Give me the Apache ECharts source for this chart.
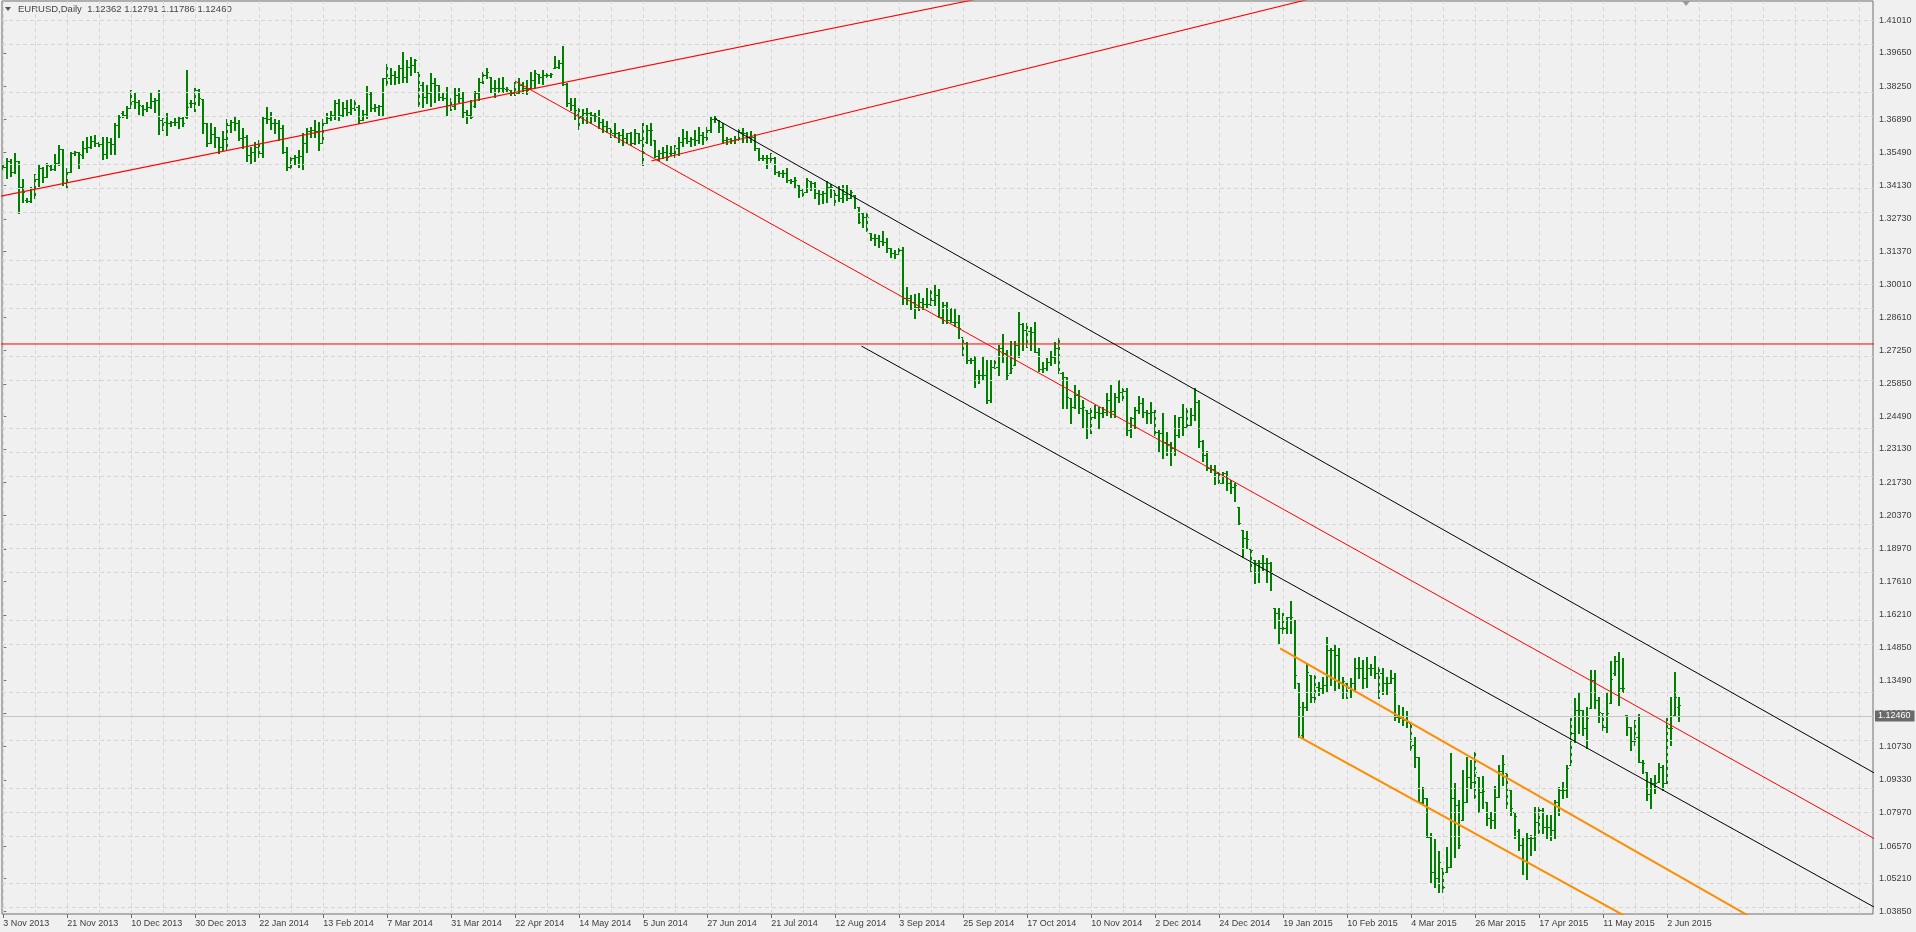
<!DOCTYPE html>
<html>
<head>
<meta charset="utf-8">
<script src="https://cdn.jsdelivr.net/npm/echarts@6.0.0/dist/echarts.min.js"></script>
<style>
html,body{margin:0;padding:0;background:#f0f0f0;}
#chart{width:1916px;height:932px;}
</style>
</head>
<body>
<div id="chart"></div>
<script>
// ---------- DATA ----------
const titleText = 'EURUSD,Daily  1.12362 1.12791 1.11786 1.12460';
const tickLabels = ['3 Nov 2013','21 Nov 2013','10 Dec 2013','30 Dec 2013','22 Jan 2014','13 Feb 2014','7 Mar 2014','31 Mar 2014','22 Apr 2014','14 May 2014','5 Jun 2014','27 Jun 2014','21 Jul 2014','12 Aug 2014','3 Sep 2014','25 Sep 2014','17 Oct 2014','10 Nov 2014','2 Dec 2014','24 Dec 2014','19 Jan 2015','10 Feb 2015','4 Mar 2015','26 Mar 2015','17 Apr 2015','11 May 2015','2 Jun 2015'];
const barsPerLabel = 16;
const barsPerGridLine = 8;
const yTickValues = [1.41010,1.39650,1.38250,1.36890,1.35490,1.34130,1.32730,1.31370,1.30010,1.28610,1.27250,1.25850,1.24490,1.23130,1.21730,1.20370,1.18970,1.17610,1.16210,1.14850,1.13490,1.12090,1.10730,1.09330,1.07970,1.06570,1.05210,1.03850];
const bidPrice = 1.12460;
const shiftMarkerBar = 420.7;

const opens = [
1.3492,1.3490,1.3514,1.3470,1.3514,1.3407,1.3350,1.3348,1.3400,1.3439,
1.3484,1.3449,1.3495,1.3481,1.3505,1.3563,1.3421,1.3470,1.3549,1.3550,
1.3539,1.3570,1.3574,1.3598,1.3588,1.3584,1.3542,1.3592,1.3585,1.3664,
1.3713,1.3706,1.3737,1.3764,1.3762,1.3745,1.3731,1.3741,1.3766,1.3769,
1.3685,1.3678,1.3671,1.3676,1.3678,1.3695,1.3699,1.3755,1.3755,1.3810,
1.3771,1.3671,1.3588,1.3627,1.3613,1.3574,1.3606,1.3664,1.3678,1.3671,
1.3609,1.3616,1.3539,1.3553,1.3574,1.3546,1.3692,1.3688,1.3674,1.3671,
1.3650,1.3553,1.3491,1.3525,1.3530,1.3535,1.3588,1.3641,1.3644,1.3641,
1.3591,1.3671,1.3692,1.3706,1.3755,1.3706,1.3734,1.3720,1.3737,1.3741,
1.3685,1.3710,1.3792,1.3737,1.3741,1.3744,1.3859,1.3862,1.3873,1.3866,
1.3901,1.3866,1.3908,1.3915,1.3887,1.3831,1.3782,1.3796,1.3838,1.3831,
1.3782,1.3778,1.3748,1.3744,1.3789,1.3776,1.3717,1.3706,1.3745,1.3796,
1.3845,1.3873,1.3866,1.3817,1.3817,1.3817,1.3815,1.3810,1.3796,1.3796,
1.3831,1.3817,1.3817,1.3852,1.3876,1.3866,1.3873,1.3873,1.3901,1.3908,
1.3921,1.3837,1.3755,1.3748,1.3710,1.3702,1.3713,1.3713,1.3706,1.3702,
1.3678,1.3660,1.3650,1.3632,1.3632,1.3623,1.3609,1.3630,1.3590,1.3630,
1.3602,1.3595,1.3643,1.3602,1.3535,1.3546,1.3553,1.3546,1.3546,1.3567,
1.3595,1.3609,1.3599,1.3605,1.3602,1.3623,1.3616,1.3643,1.3688,1.3685,
1.3657,1.3602,1.3605,1.3602,1.3605,1.3637,1.3630,1.3616,1.3616,1.3570,
1.3525,1.3528,1.3528,1.3528,1.3470,1.3463,1.3463,1.3435,1.3431,1.3414,
1.3393,1.3384,1.3431,1.3421,1.3379,1.3375,1.3379,1.3407,1.3393,1.3372,
1.3361,1.3375,1.3361,1.3372,1.3324,1.3296,1.3282,1.3213,1.3195,1.3192,
1.3181,1.3178,1.3150,1.3129,1.3125,1.3143,1.2942,1.2942,1.2928,1.2907,
1.2928,1.2917,1.2917,1.2935,1.2955,1.2865,1.2914,1.2851,1.2844,1.2844,
1.2782,1.2754,1.2684,1.2684,1.2622,1.2622,1.2622,1.2517,1.2657,1.2654,
1.2733,1.2712,1.2629,1.2663,1.2747,1.2834,1.2809,1.2807,1.2802,1.2719,
1.2645,1.2650,1.2677,1.2695,1.2733,1.2629,1.2612,1.2524,1.2490,1.2538,
1.2483,1.2476,1.2462,1.2448,1.2469,1.2462,1.2469,1.2517,1.2470,1.2531,
1.2552,1.2556,1.2393,1.2441,1.2476,1.2504,1.2469,1.2462,1.2469,1.2386,
1.2379,1.2344,1.2334,1.2316,1.2372,1.2445,1.2406,1.2413,1.2455,1.2511,
1.2348,1.2288,1.2232,1.2229,1.2212,1.2173,1.2212,1.2170,1.2153,1.2070,
1.1975,1.1941,1.1895,1.1851,1.1837,1.1837,1.1837,1.1837,1.1649,1.1628,
1.1565,1.1565,1.1614,1.1600,1.1336,1.1120,1.1238,1.1370,1.1280,1.1322,
1.1318,1.1329,1.1475,1.1475,1.1454,1.1343,1.1336,1.1318,1.1336,1.1398,
1.1398,1.1357,1.1398,1.1398,1.1377,1.1377,1.1336,1.1336,1.1359,1.1197,
1.1193,1.1183,1.1169,1.1079,1.1030,1.0842,1.0856,1.0696,1.0550,1.0523,
1.0564,1.0550,1.0571,1.0859,1.0828,1.0766,1.0842,1.0947,1.0926,1.0947,
1.0884,1.0842,1.0773,1.0766,1.0863,1.0970,1.0960,1.0891,1.0801,1.0720,
1.0660,1.0600,1.0689,1.0689,1.0759,1.0807,1.0738,1.0738,1.0724,1.0842,
1.0891,1.0891,1.0995,1.1127,1.1225,1.1225,1.1148,1.1232,1.1350,1.1266,
1.1211,1.1155,1.1252,1.1380,1.1430,1.1315,1.1204,1.1155,1.1095,1.1113,
1.1009,1.0967,1.0873,1.0919,1.0926,1.0988,1.0919,1.1151,1.1204,1.1236
];
const highs = [
1.3500,1.3525,1.3522,1.3549,1.3514,1.3439,1.3359,1.3407,1.3459,1.3498,
1.3491,1.3505,1.3498,1.3542,1.3581,1.3564,1.3484,1.3550,1.3557,1.3553,
1.3598,1.3616,1.3619,1.3623,1.3592,1.3614,1.3616,1.3609,1.3671,1.3706,
1.3723,1.3745,1.3810,1.3796,1.3769,1.3748,1.3762,1.3799,1.3778,1.3810,
1.3695,1.3713,1.3681,1.3695,1.3699,1.3699,1.3894,1.3769,1.3817,1.3813,
1.3771,1.3674,1.3671,1.3655,1.3616,1.3641,1.3689,1.3685,1.3696,1.3685,
1.3651,1.3623,1.3574,1.3595,1.3602,1.3699,1.3741,1.3720,1.3688,1.3685,
1.3664,1.3574,1.3532,1.3539,1.3560,1.3630,1.3651,1.3655,1.3685,1.3678,
1.3688,1.3713,1.3723,1.3769,1.3773,1.3762,1.3769,1.3771,1.3769,1.3748,
1.3727,1.3827,1.3803,1.3751,1.3748,1.3862,1.3917,1.3901,1.3890,1.3915,
1.3970,1.3935,1.3949,1.3940,1.3887,1.3845,1.3831,1.3880,1.3859,1.3831,
1.3796,1.3824,1.3776,1.3817,1.3820,1.3803,1.3727,1.3769,1.3806,1.3862,
1.3887,1.3904,1.3866,1.3852,1.3859,1.3866,1.3824,1.3810,1.3845,1.3859,
1.3845,1.3852,1.3887,1.3894,1.3876,1.3894,1.3880,1.3880,1.3954,1.3935,
1.3993,1.3840,1.3776,1.3776,1.3734,1.3730,1.3734,1.3720,1.3713,1.3727,
1.3688,1.3682,1.3650,1.3671,1.3637,1.3646,1.3632,1.3637,1.3646,1.3632,
1.3671,1.3664,1.3671,1.3602,1.3560,1.3574,1.3581,1.3577,1.3581,1.3616,
1.3646,1.3641,1.3616,1.3643,1.3655,1.3637,1.3657,1.3696,1.3702,1.3685,
1.3671,1.3616,1.3609,1.3619,1.3646,1.3650,1.3637,1.3639,1.3626,1.3570,
1.3539,1.3539,1.3546,1.3532,1.3473,1.3477,1.3484,1.3439,1.3449,1.3414,
1.3403,1.3445,1.3431,1.3428,1.3393,1.3389,1.3431,1.3417,1.3393,1.3411,
1.3414,1.3414,1.3393,1.3372,1.3324,1.3296,1.3296,1.3213,1.3208,1.3206,
1.3222,1.3192,1.3150,1.3143,1.3150,1.3157,1.2990,1.2955,1.2958,1.2962,
1.2942,1.2983,1.2976,1.2997,1.2979,1.2928,1.2928,1.2900,1.2896,1.2872,
1.2782,1.2761,1.2691,1.2701,1.2643,1.2701,1.2684,1.2684,1.2684,1.2747,
1.2793,1.2726,1.2765,1.2765,1.2886,1.2840,1.2840,1.2823,1.2844,1.2733,
1.2677,1.2691,1.2723,1.2761,1.2775,1.2636,1.2615,1.2524,1.2580,1.2559,
1.2517,1.2476,1.2483,1.2497,1.2490,1.2490,1.2545,1.2580,1.2545,1.2601,
1.2566,1.2566,1.2448,1.2490,1.2534,1.2524,1.2476,1.2511,1.2476,1.2392,
1.2462,1.2386,1.2344,1.2455,1.2448,1.2501,1.2483,1.2483,1.2566,1.2517,
1.2351,1.2306,1.2247,1.2247,1.2219,1.2219,1.2223,1.2184,1.2170,1.2070,
1.1975,1.1969,1.1895,1.1851,1.1851,1.1871,1.1857,1.1843,1.1649,1.1649,
1.1628,1.1614,1.1681,1.1600,1.1336,1.1259,1.1419,1.1370,1.1370,1.1343,
1.1364,1.1530,1.1484,1.1498,1.1484,1.1364,1.1336,1.1357,1.1443,1.1447,
1.1433,1.1447,1.1415,1.1451,1.1405,1.1398,1.1364,1.1391,1.1377,1.1245,
1.1238,1.1220,1.1169,1.1113,1.1030,1.0905,1.0856,1.0710,1.0687,1.0637,
1.0564,1.0655,1.1044,1.0919,1.0850,1.0974,1.1030,1.1016,1.1051,1.0947,
1.0950,1.0842,1.0801,1.0909,1.0995,1.1037,1.0960,1.0891,1.0801,1.0730,
1.0690,1.0710,1.0703,1.0821,1.0821,1.0814,1.0787,1.0787,1.0849,1.0905,
1.0926,1.0995,1.1193,1.1276,1.1294,1.1225,1.1238,1.1391,1.1391,1.1280,
1.1211,1.1301,1.1430,1.1450,1.1467,1.1440,1.1204,1.1155,1.1183,1.1207,
1.1016,1.0967,1.0940,1.0954,1.1002,1.0995,1.1190,1.1280,1.1384,1.1279
];
const lows = [
1.3482,1.3442,1.3453,1.3463,1.3296,1.3345,1.3342,1.3345,1.3359,1.3411,
1.3428,1.3448,1.3477,1.3477,1.3498,1.3414,1.3400,1.3470,1.3539,1.3486,
1.3525,1.3553,1.3570,1.3578,1.3578,1.3523,1.3525,1.3545,1.3542,1.3616,
1.3699,1.3692,1.3734,1.3734,1.3709,1.3706,1.3723,1.3734,1.3720,1.3626,
1.3644,1.3623,1.3662,1.3664,1.3653,1.3662,1.3692,1.3741,1.3724,1.3748,
1.3630,1.3577,1.3588,1.3574,1.3549,1.3560,1.3560,1.3637,1.3644,1.3602,
1.3567,1.3516,1.3505,1.3516,1.3532,1.3530,1.3671,1.3646,1.3630,1.3602,
1.3546,1.3477,1.3484,1.3502,1.3491,1.3480,1.3553,1.3616,1.3616,1.3560,
1.3588,1.3671,1.3685,1.3688,1.3685,1.3702,1.3706,1.3710,1.3727,1.3671,
1.3685,1.3692,1.3723,1.3723,1.3706,1.3706,1.3831,1.3834,1.3834,1.3838,
1.3845,1.3845,1.3873,1.3887,1.3744,1.3741,1.3755,1.3744,1.3762,1.3769,
1.3769,1.3706,1.3727,1.3731,1.3762,1.3699,1.3671,1.3692,1.3741,1.3769,
1.3838,1.3859,1.3803,1.3782,1.3803,1.3803,1.3806,1.3789,1.3789,1.3796,
1.3796,1.3792,1.3817,1.3817,1.3838,1.3834,1.3866,1.3866,1.3901,1.3901,
1.3832,1.3744,1.3727,1.3688,1.3646,1.3671,1.3674,1.3674,1.3682,1.3650,
1.3637,1.3637,1.3616,1.3613,1.3595,1.3581,1.3588,1.3581,1.3585,1.3588,
1.3498,1.3588,1.3581,1.3532,1.3518,1.3525,1.3518,1.3539,1.3532,1.3539,
1.3577,1.3588,1.3577,1.3581,1.3588,1.3585,1.3602,1.3637,1.3678,1.3637,
1.3588,1.3585,1.3588,1.3588,1.3602,1.3595,1.3592,1.3595,1.3560,1.3519,
1.3519,1.3486,1.3512,1.3459,1.3453,1.3449,1.3425,1.3421,1.3407,1.3366,
1.3370,1.3384,1.3393,1.3358,1.3334,1.3338,1.3345,1.3366,1.3331,1.3348,
1.3345,1.3352,1.3358,1.3317,1.3254,1.3240,1.3222,1.3185,1.3164,1.3157,
1.3164,1.3133,1.3115,1.3111,1.3125,1.2917,1.2917,1.2897,1.2858,1.2893,
1.2897,1.2907,1.2914,1.2914,1.2865,1.2837,1.2837,1.2844,1.2826,1.2775,
1.2701,1.2673,1.2670,1.2570,1.2587,1.2601,1.2504,1.2511,1.2650,1.2622,
1.2677,1.2604,1.2629,1.2663,1.2698,1.2726,1.2740,1.2726,1.2719,1.2640,
1.2636,1.2643,1.2663,1.2673,1.2629,1.2483,1.2483,1.2420,1.2483,1.2462,
1.2400,1.2358,1.2380,1.2441,1.2400,1.2448,1.2455,1.2448,1.2445,1.2510,
1.2517,1.2372,1.2365,1.2400,1.2462,1.2448,1.2420,1.2420,1.2372,1.2302,
1.2274,1.2288,1.2247,1.2288,1.2365,1.2372,1.2406,1.2413,1.2434,1.2320,
1.2264,1.2226,1.2219,1.2168,1.2170,1.2170,1.2142,1.2128,1.2098,1.2000,
1.1864,1.1899,1.1802,1.1753,1.1760,1.1809,1.1760,1.1725,1.1565,1.1503,
1.1545,1.1545,1.1545,1.1315,1.1113,1.1106,1.1225,1.1259,1.1259,1.1287,
1.1294,1.1301,1.1329,1.1308,1.1315,1.1273,1.1276,1.1280,1.1301,1.1357,
1.1318,1.1322,1.1370,1.1357,1.1276,1.1290,1.1290,1.1336,1.1183,1.1176,
1.1162,1.1155,1.1058,1.0988,1.0842,1.0835,1.0696,1.0509,1.0488,1.0464,
1.0467,1.0550,1.0570,1.0613,1.0648,1.0766,1.0840,1.0898,1.0856,1.0801,
1.0815,1.0745,1.0731,1.0731,1.0863,1.0912,1.0814,1.0787,1.0690,1.0640,
1.0540,1.0520,1.0620,1.0640,1.0710,1.0710,1.0689,1.0682,1.0689,1.0787,
1.0856,1.0863,1.0995,1.1092,1.1127,1.1120,1.1065,1.1232,1.1232,1.1176,
1.1141,1.1134,1.1252,1.1371,1.1245,1.1301,1.1120,1.1058,1.1079,1.1009,
1.0960,1.0849,1.0814,1.0877,1.0926,1.0891,1.0919,1.1079,1.1204,1.1179
];
const closes = [
1.3491,1.3514,1.3470,1.3516,1.3407,1.3386,1.3348,1.3400,1.3439,1.3484,
1.3449,1.3498,1.3481,1.3505,1.3563,1.3421,1.3470,1.3546,1.3550,1.3545,
1.3570,1.3574,1.3598,1.3588,1.3584,1.3542,1.3592,1.3585,1.3664,1.3699,
1.3706,1.3737,1.3764,1.3762,1.3748,1.3731,1.3741,1.3766,1.3769,1.3685,
1.3678,1.3671,1.3676,1.3678,1.3695,1.3671,1.3741,1.3755,1.3810,1.3776,
1.3671,1.3588,1.3627,1.3613,1.3574,1.3606,1.3664,1.3678,1.3671,1.3609,
1.3616,1.3539,1.3553,1.3574,1.3546,1.3692,1.3688,1.3674,1.3671,1.3650,
1.3553,1.3491,1.3525,1.3530,1.3535,1.3588,1.3641,1.3644,1.3641,1.3591,
1.3671,1.3692,1.3706,1.3755,1.3706,1.3734,1.3720,1.3737,1.3741,1.3685,
1.3710,1.3803,1.3737,1.3741,1.3744,1.3859,1.3862,1.3873,1.3866,1.3901,
1.3866,1.3908,1.3915,1.3935,1.3831,1.3782,1.3796,1.3838,1.3831,1.3782,
1.3778,1.3748,1.3744,1.3789,1.3776,1.3717,1.3706,1.3699,1.3796,1.3845,
1.3873,1.3887,1.3817,1.3817,1.3817,1.3817,1.3815,1.3796,1.3796,1.3831,
1.3817,1.3810,1.3852,1.3880,1.3866,1.3873,1.3873,1.3876,1.3908,1.3921,
1.3837,1.3755,1.3748,1.3727,1.3702,1.3713,1.3713,1.3706,1.3702,1.3678,
1.3660,1.3650,1.3632,1.3632,1.3623,1.3609,1.3630,1.3590,1.3630,1.3602,
1.3553,1.3643,1.3643,1.3535,1.3546,1.3553,1.3532,1.3546,1.3567,1.3595,
1.3609,1.3599,1.3605,1.3602,1.3623,1.3616,1.3643,1.3688,1.3692,1.3657,
1.3602,1.3605,1.3602,1.3605,1.3637,1.3630,1.3616,1.3616,1.3570,1.3525,
1.3528,1.3528,1.3528,1.3470,1.3463,1.3463,1.3435,1.3431,1.3435,1.3393,
1.3384,1.3435,1.3421,1.3379,1.3375,1.3379,1.3407,1.3407,1.3372,1.3361,
1.3375,1.3361,1.3384,1.3358,1.3261,1.3282,1.3282,1.3195,1.3192,1.3181,
1.3178,1.3150,1.3129,1.3125,1.3143,1.2942,1.2942,1.2928,1.2907,1.2928,
1.2917,1.2917,1.2935,1.2955,1.2865,1.2914,1.2851,1.2844,1.2844,1.2816,
1.2754,1.2684,1.2684,1.2622,1.2622,1.2622,1.2517,1.2657,1.2654,1.2733,
1.2712,1.2622,1.2650,1.2747,1.2834,1.2809,1.2807,1.2802,1.2719,1.2645,
1.2650,1.2677,1.2695,1.2733,1.2629,1.2612,1.2529,1.2490,1.2538,1.2483,
1.2490,1.2462,1.2448,1.2469,1.2462,1.2469,1.2517,1.2470,1.2531,1.2552,
1.2556,1.2393,1.2441,1.2476,1.2504,1.2469,1.2462,1.2469,1.2386,1.2379,
1.2344,1.2334,1.2316,1.2372,1.2445,1.2406,1.2413,1.2455,1.2511,1.2348,
1.2288,1.2232,1.2229,1.2212,1.2173,1.2212,1.2170,1.2153,1.2163,1.2003,
1.1941,1.1937,1.1892,1.1837,1.1837,1.1837,1.1837,1.1795,1.1628,1.1565,
1.1565,1.1614,1.1614,1.1370,1.1238,1.1238,1.1382,1.1280,1.1322,1.1318,
1.1329,1.1475,1.1475,1.1454,1.1343,1.1346,1.1318,1.1336,1.1398,1.1398,
1.1357,1.1398,1.1398,1.1377,1.1377,1.1336,1.1336,1.1359,1.1197,1.1193,
1.1183,1.1176,1.1079,1.1030,1.0842,1.0856,1.0696,1.0550,1.0523,1.0592,
1.0488,1.0571,1.0859,1.0828,1.0662,1.0842,1.0947,1.0926,1.0967,1.0884,
1.0887,1.0773,1.0766,1.0863,1.0970,1.0998,1.0940,1.0814,1.0784,1.0660,
1.0600,1.0689,1.0689,1.0759,1.0807,1.0738,1.0738,1.0724,1.0842,1.0891,
1.0891,1.0981,1.1127,1.1225,1.1225,1.1148,1.1190,1.1350,1.1266,1.1218,
1.1155,1.1211,1.1354,1.1430,1.1315,1.1315,1.1155,1.1095,1.1113,1.1009,
1.1002,1.0873,1.0919,1.0919,1.0988,1.0919,1.1151,1.1151,1.1280,1.1246
];

// Drawn objects: [barIndex, price] anchor points
const redRay1     = [[-1, 1.33665], [260, 1.42452]];
const redRay2     = [[162, 1.35140], [360, 1.43270]];
const redMedian   = [[127.9, 1.38478], [470, 1.06670]];
const blackUpper  = [[177.75, 1.36923], [470, 1.09406]];
const blackLower  = [[214.55, 1.27422], [470, 1.03813]];
const orangeUpper = [[319.2, 1.14818], [470, 1.00453]];
const orangeLower = [[323.9, 1.11132], [470, 0.97727]];
const redLevel    = 1.27510;

// ---------- CHART ----------
const chart = echarts.init(document.getElementById('chart'), null, {renderer: 'canvas'});
const FONT = 'Liberation Sans';
const xMin = -0.325, xMax = 467.425;

const labelBars = tickLabels.map((_, k) => k * barsPerLabel);
const gridBars = [];
for (let b = 0; b <= xMax; b += barsPerGridLine) gridBars.push(b);

const barData = opens.map((o, i) => [i, o, highs[i], lows[i], closes[i]]);
const barColor = '#008000';

function renderBar(params, api) {
  const i = api.value(0), o = api.value(1), h = api.value(2), l = api.value(3), c = api.value(4);
  const hi = Math.max(h, o, c), lo = Math.min(l, o, c);
  const pH = api.coord([i, hi]);
  const pL = api.coord([i, lo]);
  const pO = api.coord([i, o]);
  const pC = api.coord([i, c]);
  const x = Math.floor(pH[0]) - 1;
  const yT = Math.round(pH[1]);
  const yB = Math.round(pL[1]);
  const st = {fill: barColor};
  return {
    type: 'group',
    children: [
      {type: 'rect', shape: {x: x, y: yT, width: 2, height: Math.max(1, yB - yT + 1)}, style: st},
      {type: 'rect', shape: {x: x - 1, y: Math.round(pO[1]), width: 1, height: 1}, style: st},
      {type: 'rect', shape: {x: x + 2, y: Math.round(pC[1]), width: 1, height: 1}, style: st}
    ]
  };
}

function trend(data, color, width, z) {
  return {type: 'line', data: data, symbol: 'none', showSymbol: false, silent: true, clip: true,
          animation: false, z: z || 5, lineStyle: {color: color, width: width}};
}

const gridLineData = gridBars.map(v => ({xAxis: v})).concat(yTickValues.map(v => ({yAxis: v})));

chart.setOption({
  backgroundColor: '#f0f0f0',
  animation: false,
  grid: {left: 2, right: 43, top: 1, bottom: 18, show: true, borderColor: '#6f6f6f', borderWidth: 1, backgroundColor: '#f0f0f0'},
  xAxis: {
    type: 'value', min: xMin, max: xMax, position: 'bottom',
    axisLine: {show: false},
    axisTick: {show: true, customValues: labelBars, length: 4, lineStyle: {color: '#6f6f6f'}},
    axisLabel: {show: true, customValues: labelBars, align: 'left', margin: 5, fontSize: 9, fontFamily: FONT, color: '#3c3c3c',
                formatter: v => tickLabels[Math.round(v / barsPerLabel)] || ''},
    splitLine: {show: false}
  },
  yAxis: {
    type: 'value', min: 1.03737, max: 1.41815, position: 'right', scale: true,
    axisLine: {show: false},
    axisTick: {show: true, customValues: yTickValues, length: 3, lineStyle: {color: '#6f6f6f'}},
    axisLabel: {show: true, customValues: yTickValues, margin: 6, fontSize: 9, fontFamily: FONT, color: '#3c3c3c',
                formatter: v => v.toFixed(5)},
    splitLine: {show: false}
  },
  series: [
    {type: 'line', data: [], silent: true, z: 1,
     markLine: {symbol: ['none', 'none'], silent: true, animation: false, label: {show: false},
                lineStyle: {color: '#d6d6d6', type: [4, 3], width: 1}, data: gridLineData}},
    {type: 'line', data: [], silent: true, z: 2,
     markLine: {symbol: ['none', 'none'], silent: true, animation: false,
                lineStyle: {color: '#c6c6c6', type: 'solid', width: 1},
                label: {show: true, position: 'end', distance: 2, formatter: bidPrice.toFixed(5),
                        backgroundColor: '#6a6a6a', color: '#ffffff', padding: [1, 4, 1, 3],
                        fontSize: 9, fontFamily: FONT},
                data: [{yAxis: bidPrice}]}},
    {type: 'custom', renderItem: renderBar, data: barData, clip: true, z: 3, animation: false,
     encode: {x: 0, y: [1, 2, 3, 4]}},
    trend([[-1, redLevel], [470, redLevel]], '#ff0000', 1),
    trend(redRay1, '#ff0000', 1.1),
    trend(redRay2, '#ff0000', 1.1),
    trend(redMedian, '#ff0000', 1),
    trend(blackUpper, '#000000', 1),
    trend(blackLower, '#000000', 1),
    trend(orangeUpper, '#ff8c00', 2),
    trend(orangeLower, '#ff8c00', 2)
  ]
});

// title and chart-shift marker (small grey triangle on the top border)
const mx = chart.convertToPixel({xAxisIndex: 0}, shiftMarkerBar);
chart.setOption({
  graphic: [
    {type: 'polygon', shape: {points: [[5, 7], [11, 7], [8, 11]]}, style: {fill: '#555555'}, silent: true},
    {type: 'text', left: 18, top: 4, style: {text: titleText, font: '9.5px "Liberation Sans"', fill: '#454545'}, silent: true},
    {type: 'polygon', shape: {points: [[mx - 4, 1], [mx + 4, 1], [mx, 6]]}, style: {fill: '#9a9a9a'}, silent: true}
  ]
});
</script>
</body>
</html>
